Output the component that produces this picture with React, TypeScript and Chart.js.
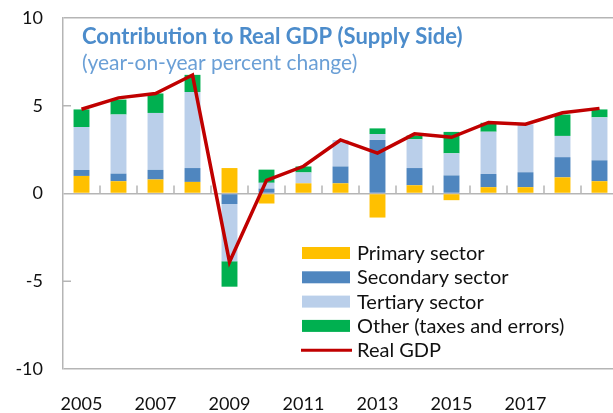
import React, { useEffect, useRef } from 'react';
import { Chart, registerables } from 'chart.js';

Chart.register(...registerables);

const years = ['2005', '2006', '2007', '2008', '2009', '2010', '2011', '2012', '2013', '2014', '2015', '2016', '2017', '2018', '2019'];
const shownYearLabels = ['2005', '2007', '2009', '2011', '2013', '2015', '2017'];
const primary = [1.0, 0.7, 0.8, 0.66, 1.45, -0.57, 0.58, 0.58, -1.37, 0.47, -0.38, 0.36, 0.36, 0.92, 0.7];
const secondary = [0.34, 0.43, 0.55, 0.79, -0.6, 0.28, 0, 0.96, 3.05, 0.98, 1.03, 0.75, 0.85, 1.15, 1.19];
const tertiary = [2.45, 3.37, 3.24, 4.33, -3.26, 0.33, 0.62, 1.51, 0.34, 1.64, 1.26, 2.41, 2.73, 1.21, 2.45];
const other = [1.0, 0.85, 1.11, 0.98, -1.45, 0.75, 0.34, 0, 0.32, 0.21, 1.22, 0.51, 0, 1.22, 0.45];
const realGdp = [4.8, 5.45, 5.7, 6.75, -3.9, 0.75, 1.55, 3.05, 2.3, 3.4, 3.2, 4.05, 3.95, 4.6, 4.85];
const yTicks = [-10, -5, 0, 5, 10];
const boxLineValues = [10, 0, -10];
const innerTickValues = [5, -5];

const titleText = 'Contribution to Real GDP (Supply Side)';
const subtitleText = '(year-on-year percent change)';

const AXIS = '#B5B5B5';
const FONT = 'Lato';

const overlay = {
  id: 'overlay',
  beforeDatasetsDraw(chart: any) {
    const { ctx, chartArea, scales } = chart;
    const x = scales.x;
    const y = scales.y;
    ctx.save();
    ctx.strokeStyle = AXIS;
    ctx.lineWidth = 1.5;
    const y0 = y.getPixelForValue(0);
    ctx.beginPath();
    for (let i = 1; i < years.length; i++) {
      const bx = (x.getPixelForValue(i - 1) + x.getPixelForValue(i)) / 2;
      ctx.moveTo(bx, y0);
      ctx.lineTo(bx, y0 - 8);
    }
    for (const v of innerTickValues) {
      const py = y.getPixelForValue(v);
      ctx.moveTo(chartArea.left, py);
      ctx.lineTo(chartArea.left + 8, py);
    }
    ctx.stroke();
    ctx.restore();
  },
  afterDraw(chart: any) {
    const { ctx, chartArea } = chart;
    ctx.save();
    ctx.textAlign = 'left';
    ctx.textBaseline = 'alphabetic';
    ctx.fillStyle = '#4C8CCB';
    ctx.font = `bold 22px ${FONT}`;
    ctx.fillText(titleText, chartArea.left + 19, chartArea.top + 26);
    ctx.fillStyle = '#6A9FD6';
    ctx.font = `21px ${FONT}`;
    ctx.fillText(subtitleText, chartArea.left + 19, chartArea.top + 52);

    const lx = chartArea.left + 239;
    const ly = chartArea.top + 235;
    const step = 24.3;
    const ds = chart.data.datasets;
    const order = [1, 2, 3, 4, 0];
    ctx.font = `20px ${FONT}`;
    order.forEach((di: number, k: number) => {
      const d = ds[di];
      const cy = ly + k * step;
      if (d.type === 'line') {
        ctx.strokeStyle = d.borderColor;
        ctx.lineWidth = 3;
        ctx.beginPath();
        ctx.moveTo(lx - 1, cy);
        ctx.lineTo(lx + 50, cy);
        ctx.stroke();
      } else {
        ctx.fillStyle = d.backgroundColor;
        ctx.fillRect(lx, cy - 6, 48, 12);
      }
      ctx.fillStyle = '#111111';
      ctx.fillText(d.label, lx + 55, cy + 7);
    });
    ctx.restore();
  },
};

export default function App() {
  const ref = useRef<HTMLCanvasElement | null>(null);
  useEffect(() => {
    if (!ref.current) return;
    const chart = new Chart(ref.current, {
      type: 'bar',
      data: {
        labels: years,
        datasets: [
          {
            type: 'line',
            label: 'Real GDP',
            data: realGdp,
            borderColor: '#C00000',
            backgroundColor: '#C00000',
            borderWidth: 3.5,
            pointRadius: 0,
            tension: 0,
            stack: 'gdp',
            order: 0,
          } as any,
          { label: 'Primary sector', data: primary, backgroundColor: '#FFC000', stack: 's', order: 1 },
          { label: 'Secondary sector', data: secondary, backgroundColor: '#4F86BF', stack: 's', order: 1 },
          { label: 'Tertiary sector', data: tertiary, backgroundColor: '#BACFEA', stack: 's', order: 1 },
          { label: 'Other (taxes and errors)', data: other, backgroundColor: '#00B050', stack: 's', order: 1 },
        ],
      },
      options: {
        responsive: false,
        animation: false,
        devicePixelRatio: 1,
        layout: { padding: { left: 0, top: 18, right: 14, bottom: 0 } },
        datasets: { bar: { barPercentage: 0.43, categoryPercentage: 1 } },
        plugins: { legend: { display: false }, tooltip: { enabled: false }, title: { display: false } },
        scales: {
          x: {
            stacked: true,
            grid: { display: false, drawTicks: false },
            border: { display: false },
            ticks: {
              autoSkip: false,
              maxRotation: 0,
              padding: 24,
              color: '#111111',
              font: { family: FONT, size: 18 },
              callback: (_v: any, i: number) => (shownYearLabels.includes(years[i]) ? years[i] : ''),
            },
            afterFit: (s: any) => {
              s.height = 44;
            },
          },
          y: {
            stacked: true,
            min: -10,
            max: 10,
            afterBuildTicks: (s: any) => {
              s.ticks = yTicks.map((v) => ({ value: v }));
            },
            grid: {
              drawTicks: false,
              lineWidth: 1.5,
              color: (c: any) => (c.tick && boxLineValues.includes(c.tick.value) ? AXIS : 'rgba(0,0,0,0)'),
            },
            border: { display: true, color: AXIS, width: 1.5 },
            ticks: {
              padding: 20,
              color: '#111111',
              font: { family: FONT, size: 18 },
            },
            afterFit: (s: any) => {
              s.width = 63;
              s.paddingTop = 0;
              s.paddingBottom = 0;
            },
          },
        },
      },
      plugins: [overlay],
    });
    return () => chart.destroy();
  }, []);
  return (
    <div style={{ position: 'fixed', left: 0, top: 0, width: 613, height: 413, overflow: 'hidden', background: '#fff' }}>
      <canvas ref={ref} width={632} height={413} style={{ display: 'block' }} />
    </div>
  );
}
